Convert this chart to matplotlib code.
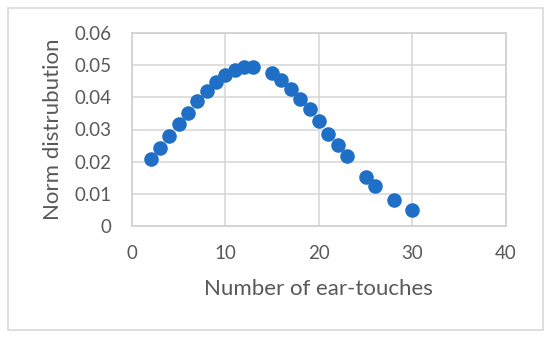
import matplotlib
matplotlib.use("Agg")
import matplotlib.pyplot as plt
from matplotlib.patches import Rectangle

x_vals = [2, 3, 4, 5, 6, 7, 8, 9, 10, 11, 12, 13, 15, 16, 17, 18, 19, 20, 21, 22, 23, 25, 26, 28, 30]
y_vals = [0.0207, 0.0243, 0.0280, 0.0317, 0.0353, 0.0389, 0.0421, 0.0448, 0.0471, 0.0486, 0.0494, 0.0496,
          0.0475, 0.0454, 0.0427, 0.0396, 0.0363, 0.0326, 0.0287, 0.0251, 0.0216, 0.0153, 0.0125, 0.0080, 0.0048]
x_ticks = [0, 10, 20, 30, 40]
y_ticks = [0, 0.01, 0.02, 0.03, 0.04, 0.05, 0.06]
y_tick_labels = ["0", "0.01", "0.02", "0.03", "0.04", "0.05", "0.06"]

plt.rcParams['font.family'] = ['Lato', 'DejaVu Sans']
fig = plt.figure(figsize=(5.5, 3.39), dpi=100)
fig.patches.append(Rectangle((7.5/550, 1 - 330/339), (543 - 7.5)/550, (330 - 8)/339,
                             transform=fig.transFigure, fill=False, edgecolor='#d9d9d9', linewidth=1.2))
ax = fig.add_axes([132/550, 1 - 225.7/339, (505.7 - 132)/550, (225.7 - 33.3)/339])
ax.scatter(x_vals, y_vals, s=110, color='#1f6fc6', zorder=3, linewidths=0)
ax.set_xlim(0, 40)
ax.set_ylim(0, 0.06)
ax.set_xticks(x_ticks)
ax.set_xticklabels([str(t) for t in x_ticks])
ax.set_yticks(y_ticks)
ax.set_yticklabels(y_tick_labels)
ax.grid(True, color='#d9d9d9', linewidth=1.2)
ax.set_axisbelow(True)
for s in ax.spines.values():
    s.set_color('#d0d0d0')
    s.set_linewidth(1.2)
ax.tick_params(axis='y', length=0, labelsize=13.5, labelcolor='#595959', pad=15)
ax.tick_params(axis='x', length=0, labelsize=13.5, labelcolor='#595959', pad=14)
ax.set_xlabel("Number of ear-touches", fontsize=16, color='#595959', labelpad=12)
ax.set_ylabel("Norm distrubution", fontsize=16, color='#595959', labelpad=8)
fig.savefig("out.png", dpi=100)
